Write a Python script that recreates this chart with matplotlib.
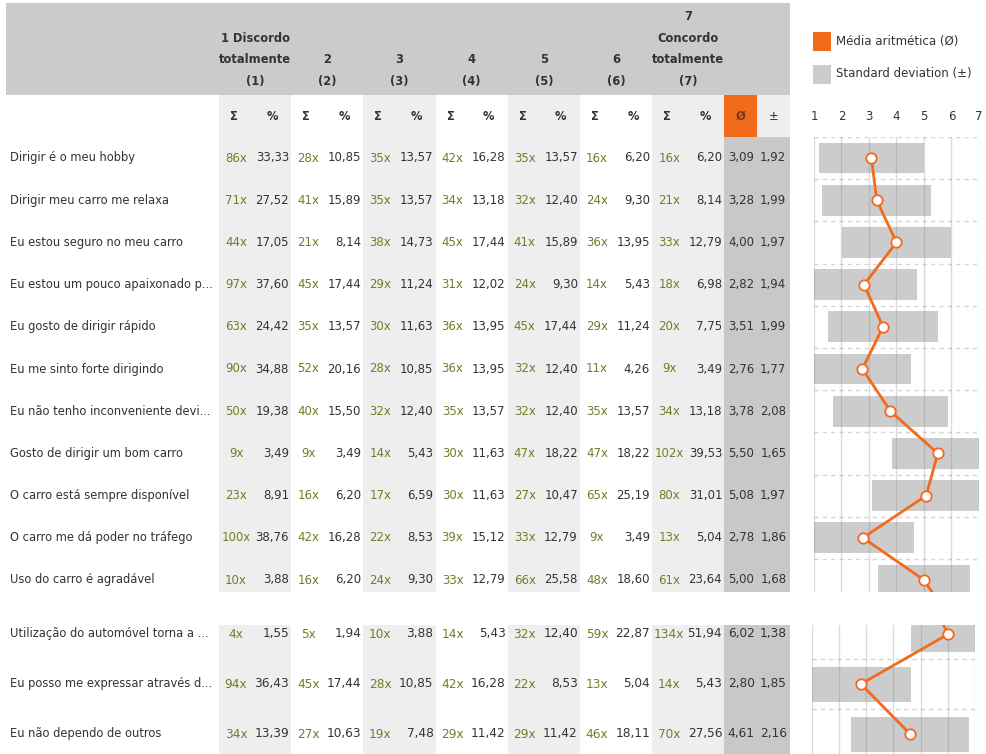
import matplotlib
matplotlib.use("Agg")
import matplotlib.pyplot as plt
from matplotlib.patches import Rectangle

plt.rcParams["font.family"] = ["DejaVu Sans"]

labels = [
    "Dirigir é o meu hobby",
    "Dirigir meu carro me relaxa",
    "Eu estou seguro no meu carro",
    "Eu estou um pouco apaixonado p...",
    "Eu gosto de dirigir rápido",
    "Eu me sinto forte dirigindo",
    "Eu não tenho inconveniente devi...",
    "Gosto de dirigir um bom carro",
    "O carro está sempre disponível",
    "O carro me dá poder no tráfego",
    "Uso do carro é agradável",
    "Utilização do automóvel torna a ...",
    "Eu posso me expressar através d...",
    "Eu não dependo de outros",
]

counts = [
    [86, 28, 35, 42, 35, 16, 16],
    [71, 41, 35, 34, 32, 24, 21],
    [44, 21, 38, 45, 41, 36, 33],
    [97, 45, 29, 31, 24, 14, 18],
    [63, 35, 30, 36, 45, 29, 20],
    [90, 52, 28, 36, 32, 11, 9],
    [50, 40, 32, 35, 32, 35, 34],
    [9, 9, 14, 30, 47, 47, 102],
    [23, 16, 17, 30, 27, 65, 80],
    [100, 42, 22, 39, 33, 9, 13],
    [10, 16, 24, 33, 66, 48, 61],
    [4, 5, 10, 14, 32, 59, 134],
    [94, 45, 28, 42, 22, 13, 14],
    [34, 27, 19, 29, 29, 46, 70],
]

pcts = [
    [33.33, 10.85, 13.57, 16.28, 13.57, 6.20, 6.20],
    [27.52, 15.89, 13.57, 13.18, 12.40, 9.30, 8.14],
    [17.05, 8.14, 14.73, 17.44, 15.89, 13.95, 12.79],
    [37.60, 17.44, 11.24, 12.02, 9.30, 5.43, 6.98],
    [24.42, 13.57, 11.63, 13.95, 17.44, 11.24, 7.75],
    [34.88, 20.16, 10.85, 13.95, 12.40, 4.26, 3.49],
    [19.38, 15.50, 12.40, 13.57, 12.40, 13.57, 13.18],
    [3.49, 3.49, 5.43, 11.63, 18.22, 18.22, 39.53],
    [8.91, 6.20, 6.59, 11.63, 10.47, 25.19, 31.01],
    [38.76, 16.28, 8.53, 15.12, 12.79, 3.49, 5.04],
    [3.88, 6.20, 9.30, 12.79, 25.58, 18.60, 23.64],
    [1.55, 1.94, 3.88, 5.43, 12.40, 22.87, 51.94],
    [36.43, 17.44, 10.85, 16.28, 8.53, 5.04, 5.43],
    [13.39, 10.63, 7.48, 11.42, 11.42, 18.11, 27.56],
]

means = [3.09, 3.28, 4.00, 2.82, 3.51, 2.76, 3.78, 5.50, 5.08, 2.78, 5.00,
         6.02, 2.80, 4.61]
sds = [1.92, 1.99, 1.97, 1.94, 1.99, 1.77, 2.08, 1.65, 1.97, 1.86, 1.68,
       1.38, 1.85, 2.16]

group_headers = [
    ["1 Discordo", "totalmente", "(1)"],
    ["2", "(2)"],
    ["3", "(3)"],
    ["4", "(4)"],
    ["5", "(5)"],
    ["6", "(6)"],
    ["7", "Concordo", "totalmente", "(7)"],
]
scale_ticks = [1, 2, 3, 4, 5, 6, 7]
legend_labels = ["Média aritmética (Ø)", "Standard deviation (±)"]
N_TOP = 11  # rows visible in the upper block

# layout (pixels)
W, H = 987, 754
COL0, COL_W = 219, 72.2
X_MEAN, X_SD, STAT_W = 724, 757, 32.5
HDR_TOP, HDR_BOT, SUB_BOT = 3, 95, 137
# (top px, bottom px, centre of first row, pitch, first row index)
PANELS = [(137, 592, 158, 42.2, 0), (625, 754, 634, 50.0, N_TOP)]

ORANGE = "#F26A1B"
BAR_GRAY = "#CCCCCC"
BAND = "#EEEEEE"
DARK = "#C8C8C8"
TXT = "#333333"
OLIVE = "#6F7F27"


def fmt(v):
    return f"{v:.2f}".replace(".", ",")


def row_y(i):
    top, bot, c0, pitch, i0 = PANELS[0] if i < N_TOP else PANELS[1]
    return c0 + (i - i0) * pitch


fig = plt.figure(figsize=(W / 100, H / 100), dpi=100)
ax = fig.add_axes([0, 0, 1, 1])
ax.set_xlim(0, W)
ax.set_ylim(H, 0)
ax.axis("off")

# header band
ax.add_patch(Rectangle((6, HDR_TOP), X_SD + STAT_W - 6, HDR_BOT - HDR_TOP,
                       fc="#CBCBCB", ec="none"))
for g, lines in enumerate(group_headers):
    xc = COL0 + (g + 0.5) * COL_W
    for k, line in enumerate(reversed(lines)):
        ax.text(xc, 81 - k * 21.5, line, ha="center", va="center",
                fontsize=8.3, fontweight="bold", color=TXT)

# column bands
for top, bot, c0, pitch, i0 in PANELS:
    y_start = HDR_BOT if i0 == 0 else top
    for g in range(0, 7, 2):
        ax.add_patch(Rectangle((COL0 + g * COL_W, y_start), COL_W, bot - y_start,
                               fc=BAND, ec="none"))
    ax.add_patch(Rectangle((X_MEAN, top), X_SD + STAT_W - X_MEAN, bot - top,
                           fc=DARK, ec="none"))

# sub header
ax.add_patch(Rectangle((X_MEAN, HDR_BOT), STAT_W, SUB_BOT - HDR_BOT, fc=ORANGE, ec="none"))
ax.add_patch(Rectangle((X_SD, HDR_BOT), STAT_W, SUB_BOT - HDR_BOT, fc=BAND, ec="none"))
for g in range(7):
    x0 = COL0 + g * COL_W
    ax.text(x0 + 15, 116, "Σ", ha="center", va="center", fontsize=8.3,
            fontweight="bold", color=TXT)
    ax.text(x0 + 53, 116, "%", ha="center", va="center", fontsize=8.3,
            fontweight="bold", color=TXT)
ax.text(X_MEAN + STAT_W / 2, 116, "Ø", ha="center", va="center", fontsize=8.3,
        fontweight="bold", color="#7a3a10")
ax.text(X_SD + STAT_W / 2, 116, "±", ha="center", va="center", fontsize=8.3,
        color=TXT)

# rows
for i, lab in enumerate(labels):
    y = row_y(i)
    fs = 8.5 if i < N_TOP else 8.7
    ax.text(10, y, lab, ha="left", va="center", fontsize=8.3, color=TXT)
    for g in range(7):
        x0 = COL0 + g * COL_W
        ax.text(x0 + 17, y, f"{counts[i][g]}x", ha="center", va="center",
                fontsize=fs, color=OLIVE)
        ax.text(x0 + 70, y, fmt(pcts[i][g]), ha="right", va="center",
                fontsize=fs, color=TXT)
    ax.text(X_MEAN + STAT_W / 2 + 1, y, fmt(means[i]), ha="center", va="center",
            fontsize=fs, color=TXT)
    ax.text(X_SD + STAT_W / 2, y, fmt(sds[i]), ha="center", va="center",
            fontsize=fs, color=TXT)

# legend
for k, (lab, col) in enumerate(zip(legend_labels, [ORANGE, BAR_GRAY])):
    yc = 41 + k * 33
    ax.add_patch(Rectangle((813, yc - 9.5), 18, 19, fc=col, ec="none"))
    ax.text(836, yc, lab, ha="left", va="center", fontsize=8.5, color=TXT)

# mean / sd chart panels
rows = list(range(len(labels)))
lefts = [max(m - s, 1) for m, s in zip(means, sds)]
widths = [min(m + s, 7) - l for m, s, l in zip(means, sds, lefts)]
chart_x = [(814, 979), (812, 975)]
bar_h = [0.73, 0.7]
for p, (top, bot, c0, pitch, i0) in enumerate(PANELS):
    xl, xr = chart_x[p]
    cax = fig.add_axes([xl / W, 1 - bot / H, (xr - xl) / W, (bot - top) / H])
    cax.set_xlim(1, 7)
    cax.set_ylim(i0 + (bot - c0) / pitch, i0 + (top - c0) / pitch)
    cax.barh(rows, widths, left=lefts, height=bar_h[p], color=BAR_GRAY, zorder=2)
    for t in scale_ticks:
        cax.axvline(t, color="#888888", alpha=0.3, lw=1, zorder=3)
    first = 0 if p == 0 else i0
    last = N_TOP if p == 0 else len(labels)
    for r in range(first, last):
        cax.axhline(r - 0.5, color="#D5D5D5", lw=1, ls=(0, (3, 3)), zorder=1)
    cax.plot(means, rows, color=ORANGE, lw=2, marker="o", ms=7.5,
             mfc="white", mec=ORANGE, mew=1.3, zorder=4)
    for s in cax.spines.values():
        s.set_visible(False)
    cax.set_yticks([])
    if p == 0:
        cax.set_xticks(scale_ticks)
        cax.xaxis.tick_top()
        cax.tick_params(axis="x", length=0, pad=10, labelsize=8.5, labelcolor=TXT)
    else:
        cax.set_xticks([])

fig.savefig("out.png", dpi=100)
